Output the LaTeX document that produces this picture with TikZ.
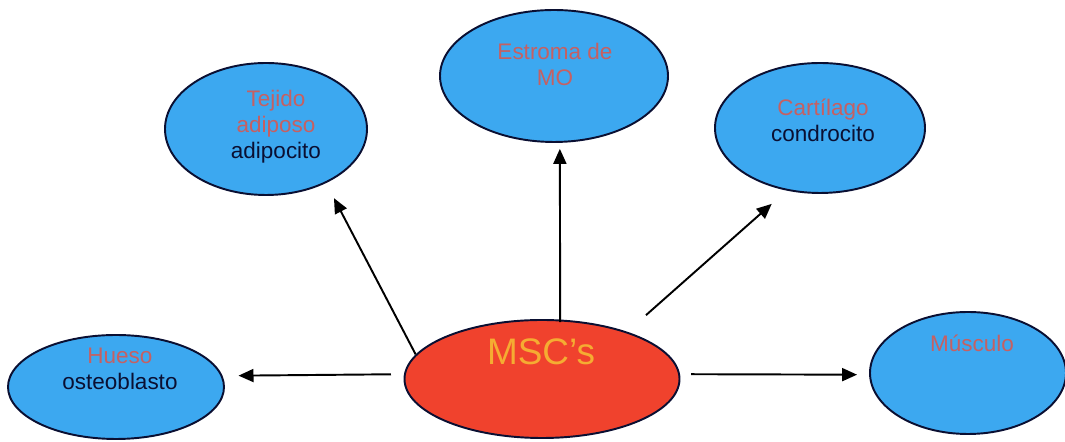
\documentclass[tikz,border=0pt]{standalone}
\usepackage{fontspec}
\setmainfont{Liberation Sans}
\usepackage{xcolor}
\usetikzlibrary{arrows.meta,shapes.geometric}
\definecolor{cellblue}{RGB}{60,168,240}
\definecolor{mscred}{RGB}{240,66,45}
\definecolor{mscorange}{RGB}{245,172,50}
\definecolor{tissue}{RGB}{198,96,98}
\definecolor{celltxt}{RGB}{10,15,50}

\begin{document}
\begin{tikzpicture}[
  cell/.style={draw=celltxt,ellipse,line width=1.1pt,fill=cellblue,inner sep=0pt},
  msc/.style={cell,fill=mscred},
  txt/.style={font=\fontsize{12.8}{14.8}\selectfont,align=center,text=celltxt},
  arr/.style={-{Triangle[length=3.0mm,width=2.6mm]},line width=1.1pt}
]
\useasboundingbox (0,0) rectangle (21.3,8.84);
%% stem cells
\node[msc,minimum width=5.50cm,minimum height=2.36cm] (msc) at (10.84,1.26) {};
\node[font=\fontsize{21}{25}\selectfont,text=mscorange] (msct) at (10.82,1.80) {MSC's};
%% lineages
\node[cell,minimum width=4.32cm,minimum height=2.08cm] (hueso) at (2.32,1.10) {};
\node[txt] (huesot) at (2.40,1.46)
  {\textcolor{tissue}{Hueso}\\osteoblasto};
\node[cell,minimum width=4.04cm,minimum height=2.64cm] (tejido) at (5.32,6.26) {};
\node[txt] (tejidot) at (5.52,6.30)
  {\textcolor{tissue}{Tejido}\\\textcolor{tissue}{adiposo}\\adipocito};
\node[cell,minimum width=4.56cm,minimum height=2.64cm] (estroma) at (11.08,7.32) {};
\node[txt] (estromat) at (11.10,7.56)
  {\textcolor{tissue}{Estroma de}\\\textcolor{tissue}{MO}};
\node[cell,minimum width=4.20cm,minimum height=2.60cm] (cart) at (16.40,6.28) {};
\node[txt] (cartt) at (16.46,6.44)
  {\textcolor{tissue}{Cartílago}\\condrocito};
\node[cell,minimum width=3.92cm,minimum height=2.44cm] (musculo) at (19.36,1.38) {};
\node[txt,text=tissue] (musculot) at (19.44,1.98) {Músculo};
%% differentiation arrows
\draw[arr,shorten <=0.26cm,shorten >=0.32cm] (msc.178) -- (hueso.6.5);
\draw[arr,shorten >=0.34cm] (msc.169) -- (tejido.-42.4);
\draw[arr,shorten <=-0.05cm,shorten >=0.12cm] (msc.73) -- (estroma.-85);
\draw[arr,shorten <=0.50cm,shorten >=0.40cm] (msc.29) -- (cart.-118);
\draw[arr,shorten <=0.22cm,shorten >=0.24cm] (msc.2) -- (musculo.181);
\end{tikzpicture}
\end{document}
